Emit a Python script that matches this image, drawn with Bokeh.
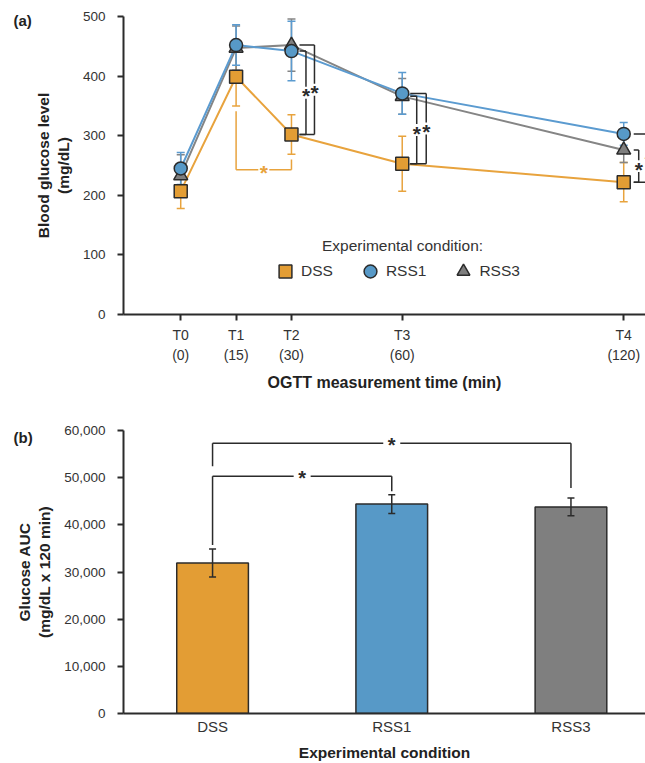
from bokeh.plotting import figure
from bokeh.models import (Whisker, TeeHead, FixedTicker, Range1d, Legend, LegendItem,
                          Label, NumeralTickFormatter, ColumnDataSource)
from bokeh.layouts import column
from bokeh.embed import file_html
from bokeh.resources import INLINE
from bokeh.core.properties import value

# ---------------- data ----------------
time_min = [0, 15, 30, 60, 120]
time_labels = ["T0\n(0)", "T1\n(15)", "T2\n(30)", "T3\n(60)", "T4\n(120)"]
dss_mean = [207, 399, 302, 253, 222]
dss_sem = [29, 49, 33, 46, 33]
rss1_mean = [245, 452, 442, 371, 303]
rss1_sem = [27, 34, 50, 35, 19]
rss3_mean = [233, 447, 452, 366, 276]
rss3_sem = [35, 37, 44, 30, 21]

conditions = ["DSS", "RSS1", "RSS3"]
auc_mean = [31900, 44400, 43800]
auc_sem = [2950, 2000, 1900]

# ---------------- style ----------------
FONT = "Liberation Sans"
TXT = "#333333"
EDGE = "#2b2b2b"
ORANGE_FILL, ORANGE_LINE = "#E39D34", "#E8A33D"
BLUE_FILL, BLUE_LINE = "#5799C7", "#5B9BD0"
GREY_FILL, GREY_LINE = "#7F7F7F", "#858585"

W = 645
LEFT = 123
XA = (-15.5, 125.9)
YA = (0, 500)
HA, TOP_A, BOT_A = 394, 16, 80
HB, TOP_B, BOT_B = 369, 36, 50
STAR_DY = 2


def style_axes(p, tick_out_x=6):
    p.xgrid.visible = False
    p.ygrid.visible = False
    p.outline_line_color = None
    p.background_fill_color = "white"
    for ax in p.axis:
        ax.axis_line_color = EDGE
        ax.axis_line_width = 2
        ax.major_tick_line_color = EDGE
        ax.major_tick_line_width = 2
        ax.major_tick_in = 0
        ax.minor_tick_line_color = None
        ax.major_label_text_font = FONT
        ax.major_label_text_color = TXT
        ax.axis_label_text_font = FONT
        ax.axis_label_text_font_style = "bold"
        ax.axis_label_text_color = "#222222"
    p.yaxis.major_tick_out = 6
    p.yaxis.major_label_standoff = 12
    p.yaxis.major_label_text_font_size = "13.5px"
    p.yaxis.axis_label_text_font_size = "15.5px"
    p.yaxis.axis_label_standoff = 8
    p.xaxis.major_tick_out = tick_out_x
    # panel tag "(a)" / "(b)" drawn as a left-aligned title pulled beside the frame
    p.title.text_font = FONT
    p.title.text_font_size = "15px"
    p.title.text_font_style = "bold"
    p.title.text_color = "#222222"
    p.title.align = "left"
    p.title.offset = 13 - LEFT


# ---------------- panel (a) ----------------
pa = figure(width=W, height=HA, output_backend="svg", toolbar_location=None, title="(a)",
            x_range=Range1d(*XA), y_range=Range1d(*YA),
            min_border_left=LEFT, min_border_right=0, min_border_top=TOP_A, min_border_bottom=BOT_A)
style_axes(pa)
pa.title.standoff = -25
pa.xaxis.ticker = FixedTicker(ticks=time_min)
pa.xaxis.major_label_overrides = {t: lab for t, lab in zip(time_min, time_labels)}
pa.xaxis.major_label_text_font_size = "14px"
pa.xaxis.major_label_text_line_height = 1.25
pa.xaxis.major_label_standoff = 6
pa.xaxis.axis_label = "OGTT measurement time (min)"
pa.xaxis.axis_label_text_font_size = "16px"
pa.xaxis.axis_label_standoff = 8
pa.yaxis.ticker = FixedTicker(ticks=[0, 100, 200, 300, 400, 500])
pa.yaxis.axis_label = "Blood glucose level\n(mg/dL)"

frame_w = W - LEFT
ppm = frame_w / (XA[1] - XA[0])     # px per minute
frame_h_a = HA - TOP_A - BOT_A
upp_a = (YA[1] - YA[0]) / frame_h_a  # units per px

series = [
    ("DSS", dss_mean, dss_sem, ORANGE_FILL, ORANGE_LINE, "square", 13),
    ("RSS3", rss3_mean, rss3_sem, GREY_FILL, GREY_LINE, "triangle", 14),
    ("RSS1", rss1_mean, rss1_sem, BLUE_FILL, BLUE_LINE, "circle", 13),
]
markers = {}
for name, m, s, fill, lc, mk, sz in series:
    src = ColumnDataSource(dict(t=time_min, m=m,
                                lo=[a - b for a, b in zip(m, s)],
                                hi=[a + b for a, b in zip(m, s)]))
    w = Whisker(source=src, base="t", lower="lo", upper="hi", line_color=lc, line_width=1.5,
                upper_head=TeeHead(size=8, line_color=lc, line_width=1.5),
                lower_head=TeeHead(size=8, line_color=lc, line_width=1.5), level="underlay")
    pa.add_layout(w)
for name, m, s, fill, lc, mk, sz in series:
    pa.line(time_min, m, line_color=lc, line_width=2)
for name, m, s, fill, lc, mk, sz in series:
    markers[name] = pa.scatter(time_min, m, marker=mk, size=sz, fill_color=fill,
                               line_color=EDGE, line_width=1.5)

# significance brackets (panel a)
bx0, by0, bx1, by1 = [], [], [], []
sx, sy = [], []


def seg(x0, y0, x1, y1):
    bx0.append(x0); by0.append(y0); bx1.append(x1); by1.append(y1)


gap_u = 10
for i, top_series, a_px, b_px in [(2, rss1_mean, 8, 14.5), (2, rss3_mean, 8, 23),
                                 (3, rss3_mean, 8, 14.5), (3, rss1_mean, 8, 24),
                                 (4, rss3_mean, 10, 15), (4, rss1_mean, 10, 25)]:
    t = time_min[i]
    top, bot = top_series[i], dss_mean[i]
    xa, xb = t + a_px / ppm, t + b_px / ppm
    mid = (top + bot) / 2
    seg(xa, top, xb, top)
    seg(xa, bot, xb, bot)
    seg(xb, top, xb, mid + gap_u)
    seg(xb, mid - gap_u, xb, bot)
    sx.append(xb); sy.append(mid)
pa.segment(bx0, by0, bx1, by1, line_color=EDGE, line_width=1.5)
pa.text(sx, sy, text=["*"] * len(sx), text_font=value(FONT), text_font_style="bold",
        text_font_size="21px", text_align="center", text_baseline="alphabetic",
        y_offset=STAR_DY + 1, text_color=EDGE)

# orange bracket T1 vs T2 (DSS)
level = 243
g = 9
t1, t2 = time_min[1], time_min[2]
y1 = dss_mean[1] - dss_sem[1] - g
y2 = dss_mean[2] - dss_sem[2] - g
tm = (t1 + t2) / 2
hg = 5.5 / ppm
pa.segment([t1, t1, tm + hg, t2], [y1, level, level, level],
           [t1, tm - hg, t2, t2], [level, level, level, y2],
           line_color=ORANGE_LINE, line_width=1.5)
pa.text([tm], [level], text=["*"], text_font=value(FONT), text_font_style="bold",
        text_font_size="21px", text_align="center", text_baseline="alphabetic",
        y_offset=STAR_DY + 1, text_color=ORANGE_LINE)

# legend
legend = Legend(items=[LegendItem(label=n, renderers=[markers[n]]) for n in ["DSS", "RSS1", "RSS3"]],
                orientation="horizontal", location=(146, 27), glyph_width=32, glyph_height=32,
                label_standoff=0, spacing=21, padding=0, margin=0,
                border_line_alpha=0, background_fill_alpha=0,
                label_text_font=FONT, label_text_font_size="15.5px", label_text_color=TXT)
pa.add_layout(legend)
pa.add_layout(Label(x=XA[0] + (402 - LEFT) / ppm, y=(314 - 245) * upp_a,
                    text="Experimental condition:", text_font=FONT, text_font_size="15.5px",
                    text_color=TXT, text_align="center", text_baseline="middle"))

# ---------------- panel (b) ----------------
XB = (-0.497, 2.416)
YB = (0, 60000)
pb = figure(width=W, height=HB, output_backend="svg", toolbar_location=None, title="(b)",
            x_range=Range1d(*XB), y_range=Range1d(*YB),
            min_border_left=LEFT, min_border_right=0, min_border_top=TOP_B, min_border_bottom=BOT_B)
style_axes(pb, tick_out_x=0)
pb.title.standoff = -31
xpos = list(range(len(conditions)))
pb.xaxis.ticker = FixedTicker(ticks=xpos)
pb.xaxis.major_label_overrides = {i: c for i, c in zip(xpos, conditions)}
pb.xaxis.major_label_text_font_size = "15px"
pb.xaxis.major_label_standoff = 4
pb.xaxis.axis_label = "Experimental condition"
pb.xaxis.axis_label_text_font_size = "15.5px"
pb.xaxis.axis_label_standoff = 6
pb.yaxis.ticker = FixedTicker(ticks=list(range(0, 60001, 10000)))
pb.yaxis.formatter = NumeralTickFormatter(format="0,0")
pb.yaxis.axis_label = "Glucose AUC\n(mg/dL x 120 min)"

bar_colors = [ORANGE_FILL, BLUE_FILL, GREY_FILL]
pb.vbar(x=xpos, top=auc_mean, width=0.4, fill_color=bar_colors, line_color=EDGE, line_width=1.5)
bsrc = ColumnDataSource(dict(x=xpos, lo=[m - s for m, s in zip(auc_mean, auc_sem)],
                             hi=[m + s for m, s in zip(auc_mean, auc_sem)]))
pb.add_layout(Whisker(source=bsrc, base="x", lower="lo", upper="hi", line_color=EDGE, line_width=1.5,
                      upper_head=TeeHead(size=7, line_color=EDGE, line_width=1.5),
                      lower_head=TeeHead(size=7, line_color=EDGE, line_width=1.5), level="annotation"))

ppu_b = (W - LEFT) / (XB[1] - XB[0])
hgap = 8.5 / ppu_b
cx0, cy0, cx1, cy1 = [], [], [], []
stx, sty = [], []
for i, j, lvl, ys_i, ye_j in [(0, 1, 50300, auc_mean[0] + auc_sem[0] + 850, auc_mean[1] + auc_sem[1] + 700),
                              (0, 2, 57300, 52400, auc_mean[2] + auc_sem[2] + 2100)]:
    xm = (i + j) / 2
    cx0 += [i, i, xm + hgap, j]
    cy0 += [ys_i, lvl, lvl, lvl]
    cx1 += [i, xm - hgap, j, j]
    cy1 += [lvl, lvl, lvl, ye_j]
    stx.append(xm); sty.append(lvl)
pb.segment(cx0, cy0, cx1, cy1, line_color=EDGE, line_width=1.5)
pb.text(stx, sty, text=["*"] * len(stx), text_font=value(FONT), text_font_style="bold",
        text_font_size="20px", text_align="center", text_baseline="alphabetic",
        y_offset=STAR_DY, text_color=EDGE)

layout = column(pa, pb, spacing=0)
open("out.html", "w").write(file_html(layout, INLINE))
